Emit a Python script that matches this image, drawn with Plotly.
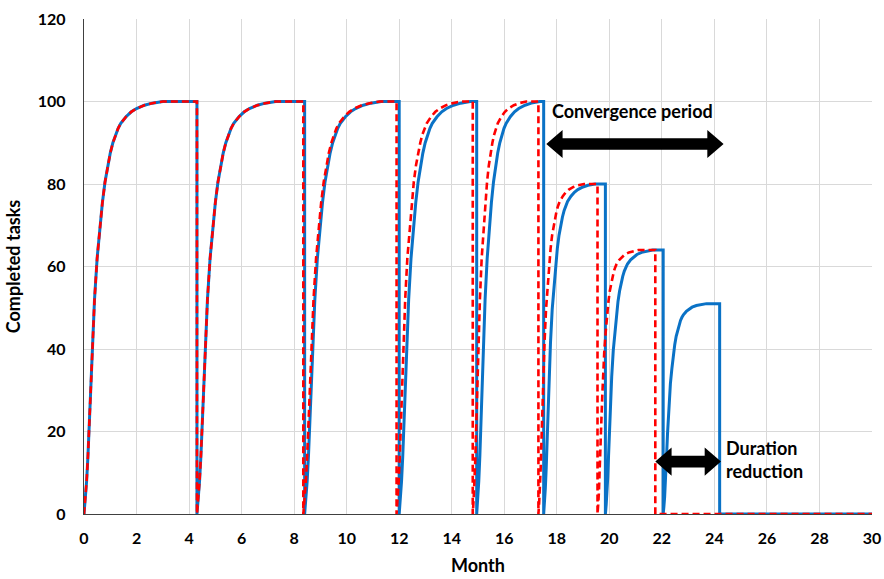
import plotly.graph_objects as go

# Normalised rise profile of one work cycle: months since cycle start -> share of the cycle's target
rise_offset = [0, 0.05, 0.1, 0.15, 0.2, 0.25, 0.3, 0.35, 0.4, 0.5, 0.6, 0.7, 0.8, 0.9,
               1.0, 1.1, 1.2, 1.3, 1.4, 1.6, 1.8, 2.0, 2.3, 2.6, 3.0]
rise_share = [0, 0.035, 0.08, 0.14, 0.22, 0.30, 0.38, 0.45, 0.52, 0.62, 0.69, 0.755, 0.805, 0.845,
              0.875, 0.9, 0.92, 0.935, 0.947, 0.963, 0.975, 0.983, 0.991, 0.996, 1.0]

# Blue series (solid): cycle start / end months, target tasks, rise speed factor
blue_start = [0.0, 4.3, 8.4, 12.0, 14.95, 17.5, 19.85, 22.05]
blue_end = [4.3, 8.4, 12.0, 14.95, 17.5, 19.85, 22.05, 24.2]
blue_peak = [100, 100, 100, 100, 100, 80, 64, 51]
blue_speed = [1.0, 1.0, 0.97, 0.9, 0.8, 0.65, 0.6, 0.55]

# Red series (dashed)
red_start = [0.0, 4.3, 8.35, 11.9, 14.8, 17.3, 19.55]
red_end = [4.3, 8.35, 11.9, 14.8, 17.3, 19.55, 21.75]
red_peak = [100, 100, 100, 100, 100, 80, 64]
red_speed = [1.0, 1.0, 0.97, 0.82, 0.68, 0.58, 0.52]

month_end = 30


def build(starts, ends, peaks, speeds):
    xs, ys = [], []
    for t0, t1, p, s in zip(starts, ends, peaks, speeds):
        for off, sh in zip(rise_offset, rise_share):
            t = t0 + off * s
            if t >= t1:
                break
            xs.append(t)
            ys.append(p * sh)
        xs += [t1, t1]
        ys += [p, 0]
    xs.append(month_end)
    ys.append(0)
    return xs, ys


bx, by = build(blue_start, blue_end, blue_peak, blue_speed)
rx, ry = build(red_start, red_end, red_peak, red_speed)

fig = go.Figure()
fig.add_trace(go.Scatter(x=bx, y=by, mode="lines",
                         line=dict(color="#0A72C6", width=3), showlegend=False))
fig.add_trace(go.Scatter(x=rx, y=ry, mode="lines",
                         line=dict(color="#FF0000", width=2.6, dash="7px,4px"), showlegend=False))


def double_arrow(x0, x1, yc, shaft, head_h, head_l):
    # closed outline of a two-headed horizontal arrow, in data units
    pts = [
        (x0, yc),
        (x0 + head_l, yc + head_h / 2),
        (x0 + head_l, yc + shaft / 2),
        (x1 - head_l, yc + shaft / 2),
        (x1 - head_l, yc + head_h / 2),
        (x1, yc),
        (x1 - head_l, yc - head_h / 2),
        (x1 - head_l, yc - shaft / 2),
        (x0 + head_l, yc - shaft / 2),
        (x0 + head_l, yc - head_h / 2),
    ]
    return "M " + " L ".join(f"{x},{y}" for x, y in pts) + " Z"


conv_span = (17.6, 24.35, 89.7)
dur_span = (21.75, 24.25, 12.7)

for x0, x1, yc in (conv_span, dur_span):
    fig.add_shape(type="path", xref="x", yref="y",
                  path=double_arrow(x0, x1, yc, 2.8, 6.8, 0.62),
                  fillcolor="black", line=dict(color="black", width=0))

font_main = "Lato, 'Open Sans', sans-serif"
fig.add_annotation(x=17.75, y=97.7, xref="x", yref="y", text="<b>Convergence period</b>",
                   showarrow=False, xanchor="left", yanchor="middle",
                   font=dict(family=font_main, size=18, color="black"))
fig.add_annotation(x=24.35, y=13.2, xref="x", yref="y", text="<b>Duration<br>reduction</b>",
                   showarrow=False, xanchor="left", yanchor="middle", align="left",
                   font=dict(family=font_main, size=18, color="black"))

tick_font = dict(family=font_main, size=16, color="black", weight="bold")
title_font = dict(family=font_main, size=18, color="black")

fig.update_xaxes(range=[0, 30], tickvals=list(range(0, 31, 2)), showgrid=True,
                 gridcolor="#D9D9D9", gridwidth=1, zeroline=False,
                 showline=True, linecolor="#404040", linewidth=1.3,
                 ticks="", ticklabelstandoff=10, automargin=False,
                 tickfont=tick_font,
                 title=dict(text="<b>Month</b>", standoff=13, font=title_font))
fig.update_yaxes(range=[0, 120], tickvals=list(range(0, 121, 20)), showgrid=True,
                 gridcolor="#D9D9D9", gridwidth=1, zeroline=False,
                 showline=True, linecolor="#404040", linewidth=1.3,
                 ticks="", ticklabelstandoff=14, automargin=False,
                 tickfont=tick_font,
                 title=dict(text="<b>Completed tasks</b>", standoff=12, font=title_font))

fig.update_layout(width=884, height=579, plot_bgcolor="white", paper_bgcolor="white",
                  margin=dict(l=84, r=12, t=19, b=65), showlegend=False)

fig.write_html("out.html")
